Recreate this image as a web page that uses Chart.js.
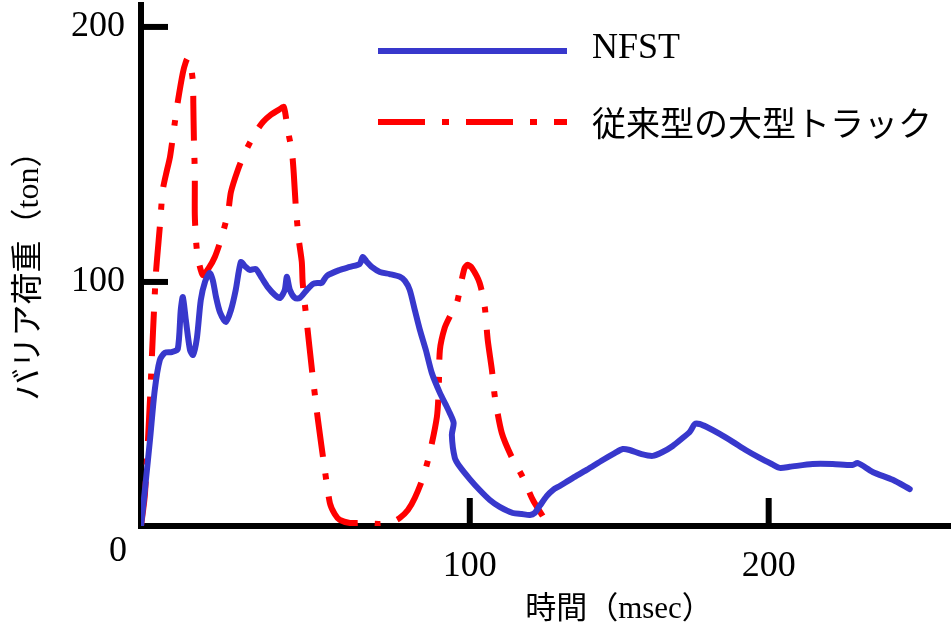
<!DOCTYPE html>
<html>
<head>
<meta charset="utf-8">
<script src="https://cdn.jsdelivr.net/npm/chart.js@4.4.1/dist/chart.umd.min.js"></script>
<style>
  html, body { margin: 0; padding: 0; background: #fff; }
  canvas { display: block; }
</style>
</head>
<body>
<canvas id="loadChart" width="951" height="634"></canvas>
<script>
// --- Data (time in msec, barrier load in ton) ---
const nfstTime = [-10, -8.7, -7, -5.4, -3.7, -2, 0.3, 2.3, 3.3, 4, 5, 6.4, 7.4, 8.7, 10, 11.4, 13, 14, 15.1, 16.4, 18.4, 20.1, 21.7, 23.4, 24.7, 26.4, 28.4, 30.4, 32.4, 34.8, 36.5, 38.1, 38.8, 39.8, 41.5, 43.1, 45.5, 47.5, 49.2, 50.5, 52.2, 56.5, 59.9, 63.2, 64.2, 65.6, 67.2, 69.9, 73.2, 76.6, 78.3, 79.9, 81.6, 83.3, 85.3, 87.3, 90, 92, 93.3, 94.6, 94, 95, 96.7, 100, 103.3, 106.7, 110, 114.4, 117.4, 120.1, 121.7, 123.4, 125.8, 127.8, 130.1, 134.4, 139.1, 144.5, 148.5, 151.2, 153.5, 157.5, 161.2, 164.5, 167.9, 171.2, 173.6, 175.3, 176.9, 179.3, 183.6, 188, 192.3, 197, 201, 203.7, 207, 214.7, 221.4, 228.1, 229.8, 234.8, 241.5, 247.2];
const nfstLoad = [4.3, 18.4, 38, 57.6, 69.4, 72.2, 72.5, 73.7, 89, 94.1, 85.1, 73.3, 71.4, 78, 92.9, 100, 103.5, 100.8, 94.1, 88.2, 84.3, 89, 96.9, 107.8, 106.3, 104.7, 105.1, 101.6, 98, 94.9, 93.7, 96.9, 102, 96.9, 93.7, 93.7, 96.9, 99.2, 99.6, 99.6, 102.4, 104.7, 105.9, 107.1, 109.8, 107.8, 105.9, 103.9, 103.1, 102, 100.4, 96.9, 89, 81.2, 73.3, 64.3, 56.5, 51.8, 48.6, 44.7, 40, 31, 27.5, 22.7, 18.4, 14.5, 11.8, 9.4, 9, 8.6, 9.4, 12.2, 16.1, 18.4, 20, 23.1, 26.3, 30.2, 32.9, 34.5, 34.1, 32.5, 31.8, 33.3, 35.7, 38.8, 41.2, 44.3, 44.3, 43.1, 40.4, 37.3, 34.1, 31, 28.6, 27.1, 27.5, 28.6, 28.6, 28.2, 29, 25.5, 22.4, 18.8];

const truckTime = [-10, -8.7, -7, -6, -5, -3.7, -2.7, -1.3, -0.3, 1.3, 2.3, 4, 5, 5.7, 6.7, 7.4, 7.5, 7.7, 8, 8, 8.4, 9, 10.7, 12.7, 14.7, 16.7, 19.1, 20.1, 22.4, 24.7, 28.4, 30.8, 33.4, 36.5, 37.8, 39.1, 40.5, 41.1, 41.8, 42.8, 43.8, 44.1, 45.5, 47.2, 49.2, 51.5, 53.2, 54.8, 56.5, 59.9, 64.2, 69.9, 73.9, 76.6, 79.3, 81.6, 84.3, 86.6, 89, 89.6, 90, 91.6, 93.6, 95.7, 97.3, 98.3, 99.3, 100.7, 103.3, 105, 106, 107.4, 108.4, 110.7, 114, 117.7, 121.1, 124.4];
const truckLoad = [4.3, 16.5, 53.7, 80, 103.5, 121.6, 136.1, 143.9, 149, 162.4, 170.6, 182, 186.3, 187.8, 184.3, 178, 170.2, 155.7, 142.7, 126.3, 116.5, 109.8, 102.7, 105.5, 109.8, 116.5, 127.1, 135.3, 143.9, 150.6, 158.8, 162.7, 165.5, 167.8, 168.6, 159.6, 151, 142.7, 129.4, 116.5, 107.8, 99.6, 83.9, 65.5, 45.9, 26.3, 13.3, 9, 6.7, 5.5, 5.5, 5.1, 5.9, 7.5, 10.6, 15.3, 23.1, 32.9, 47.1, 57.6, 73.3, 82, 87.1, 91.8, 100.8, 105.5, 106.7, 105.5, 99.6, 90.2, 77.3, 65.5, 54.9, 40.8, 31.4, 23.5, 14.5, 8.2];

const xTickValues = [100, 200];
const yTickValues = [100, 200];

const seriesNames = ['NFST', '従来型の大型トラック'];
const xTitle = '時間（msec）';
const yTitle = 'バリア荷重（ton）';

const serifFont = "'Liberation Serif', 'Noto Sans CJK JP', serif";
const cjkFont = "'Noto Sans CJK JP', sans-serif";

// --- Inward tick marks, corner "0", axis titles and legend ---
const decorPlugin = {
    id: 'decor',
    afterDraw(chart) {
        const { ctx, scales: { x, y } } = chart;
        ctx.save();

        // inward ticks
        ctx.strokeStyle = '#000';
        ctx.lineWidth = 6;
        ctx.lineCap = 'butt';
        x.ticks.forEach(t => {
            const px = x.getPixelForValue(t.value);
            ctx.beginPath();
            ctx.moveTo(px, y.bottom);
            ctx.lineTo(px, y.bottom - 28);
            ctx.stroke();
        });
        y.ticks.forEach(t => {
            const py = y.getPixelForValue(t.value);
            ctx.beginPath();
            ctx.moveTo(x.left, py);
            ctx.lineTo(x.left + 27, py);
            ctx.stroke();
        });

        // corner label
        ctx.fillStyle = '#000';
        ctx.font = '36px ' + serifFont;
        ctx.textAlign = 'center';
        ctx.textBaseline = 'middle';
        ctx.fillText('0', x.left - 23, y.bottom + 26);

        // axis titles
        ctx.font = '31px ' + serifFont;
        ctx.fillText(xTitle, 619, 610);
        ctx.save();
        ctx.translate(30, 268);
        ctx.rotate(-Math.PI / 2);
        ctx.font = '32px ' + serifFont;
        ctx.fillText(yTitle, 0, 0);
        ctx.restore();

        // legend
        const items = chart.data.datasets;
        const rows = [
            { y: 51, font: '36px ' + serifFont, ty: 49 },
            { y: 122, font: '34px ' + cjkFont, ty: 123 }
        ];
        items.forEach((ds, i) => {
            const r = rows[i];
            ctx.strokeStyle = ds.borderColor;
            ctx.lineWidth = 6;
            ctx.setLineDash(ds.legendDash || []);
            ctx.beginPath();
            ctx.moveTo(378, r.y);
            ctx.lineTo(567, r.y);
            ctx.stroke();
            ctx.setLineDash([]);
            ctx.font = r.font;
            ctx.textAlign = 'left';
            ctx.fillStyle = '#000';
            ctx.fillText(ds.label, 592, r.ty);
        });

        ctx.restore();
    }
};

new Chart(document.getElementById('loadChart'), {
    type: 'line',
    data: {
        datasets: [
            {
                label: seriesNames[0],
                data: nfstTime.map((t, i) => ({ x: t, y: nfstLoad[i] })),
                borderColor: '#3838cc',
                borderWidth: 6,
                borderJoinStyle: 'round',
                borderCapStyle: 'round',
                pointRadius: 0,
                tension: 0.25,
                fill: false
            },
            {
                label: seriesNames[1],
                data: truckTime.map((t, i) => ({ x: t, y: truckLoad[i] })),
                borderColor: '#ff0000',
                borderWidth: 6,
                borderDash: [45, 17, 6, 17],
                legendDash: [47, 17, 7, 17],
                pointRadius: 0,
                tension: 0.25,
                fill: false
            }
        ]
    },
    options: {
        responsive: false,
        animation: false,
        events: [],
        layout: { padding: { top: 5, right: 0, left: 0, bottom: 0 } },
        plugins: {
            legend: { display: false },
            tooltip: { enabled: false }
        },
        scales: {
            x: {
                type: 'linear',
                min: -10,
                max: 261,
                afterBuildTicks: scale => { scale.ticks = xTickValues.map(v => ({ value: v })); },
                afterFit: scale => {
                    scale.height = 108;
                    scale.paddingLeft = 0;
                    scale.paddingRight = 0;
                },
                grid: { display: false, drawTicks: false },
                border: { display: true, color: '#000', width: 6 },
                ticks: {
                    color: '#000',
                    padding: 19,
                    maxRotation: 0,
                    font: { family: serifFont, size: 36 }
                }
            },
            y: {
                type: 'linear',
                min: 4.3,
                max: 208.6,
                afterBuildTicks: scale => { scale.ticks = yTickValues.map(v => ({ value: v })); },
                afterFit: scale => {
                    scale.width = 141;
                    scale.paddingTop = 0;
                    scale.paddingBottom = 0;
                },
                grid: { display: false, drawTicks: false },
                border: { display: true, color: '#000', width: 6 },
                ticks: {
                    color: '#000',
                    padding: 16,
                    font: { family: serifFont, size: 36 }
                }
            }
        }
    },
    plugins: [decorPlugin]
});
</script>
</body>
</html>
